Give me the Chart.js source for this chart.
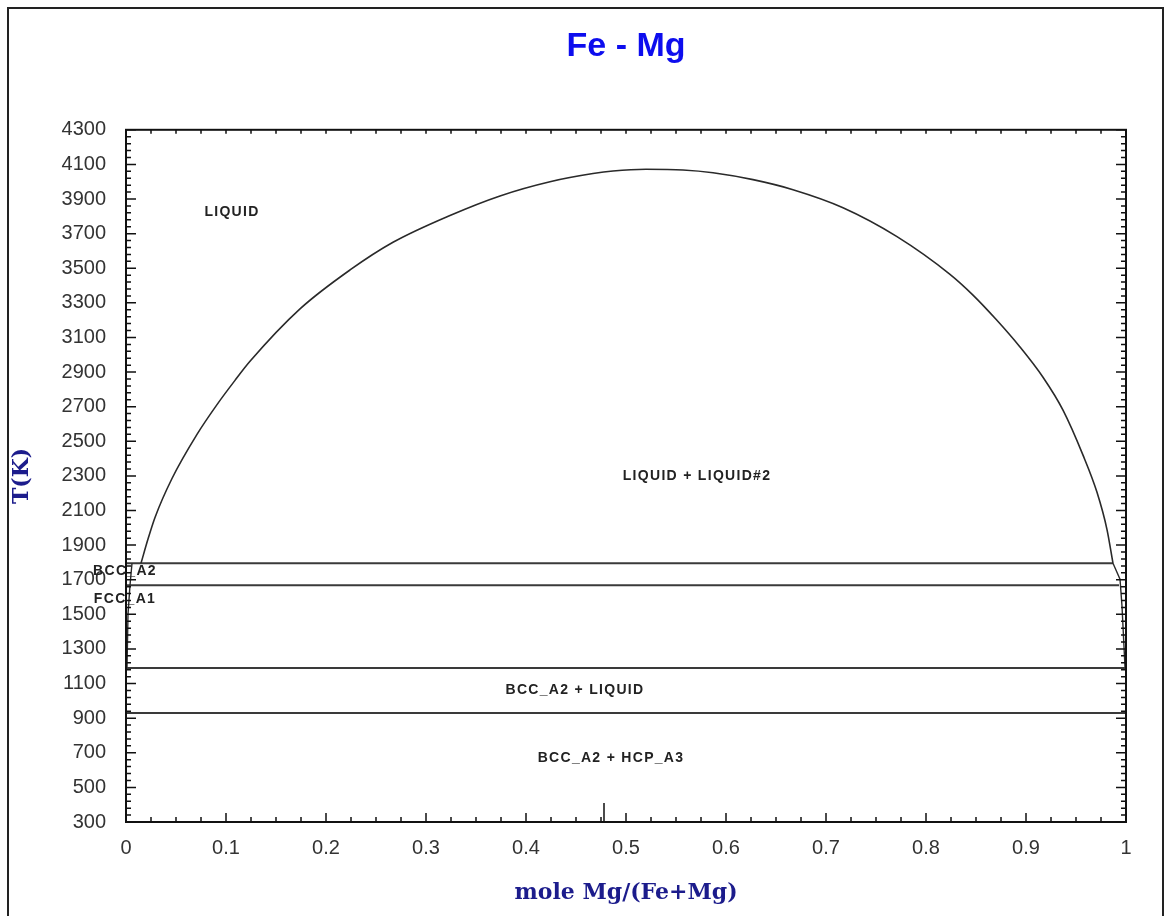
<!DOCTYPE html>
<html>
<head>
<meta charset="utf-8">
<title>Fe - Mg</title>
<script src="https://cdn.jsdelivr.net/npm/chart.js@4.4.1/dist/chart.umd.min.js"></script>
<style>
    html, body { margin: 0; padding: 0; background: #fff; overflow: hidden; }
    #wrap { position: relative; width: 1169px; height: 916px; }
    #frame {
        position: absolute; left: 7px; top: 7px; width: 1153px; height: 1000px;
        border: 2px solid #222; pointer-events: none;
    }
</style>
</head>
<body>
<div id="wrap">
    <canvas id="phaseChart" width="1169" height="916"></canvas>
    <div id="frame"></div>
</div>
<script>
// miscibility gap (liquid / liquid#2), x = mole fraction Mg, T in K
const gapX = [0.015, 0.022, 0.029, 0.046, 0.071, 0.091, 0.109, 0.124, 0.174, 0.224, 0.267, 0.324, 0.374, 0.424, 0.467, 0.487, 0.520, 0.557, 0.587, 0.627, 0.667, 0.717, 0.771, 0.824, 0.847, 0.870, 0.894, 0.917, 0.937, 0.957, 0.971, 0.981, 0.987];
const gapT = [1795, 1935, 2060, 2285, 2540, 2712, 2852, 2962, 3265, 3490, 3650, 3805, 3918, 4000, 4047, 4062, 4072, 4068, 4052, 4012, 3954, 3850, 3683, 3465, 3345, 3205, 3045, 2870, 2680, 2420, 2205, 1990, 1795];

// boundaries below the monotectic line
const feSideX = [0.006, 0.004, 0.002, 0.001];
const feSideT = [1795, 1668, 1500, 1195];
const mgSideX = [0.987, 0.994, 0.996, 0.999];
const mgSideT = [1795, 1703, 1547, 1195];

// invariant (horizontal) lines
const invariantT = [1795, 1668, 1190, 930];
const invariantXEnd = [0.987, 0.993, 1, 1];

// short marker on the x axis
const markerX = [0.478];

const xTickValues = [0, 0.1, 0.2, 0.3, 0.4, 0.5, 0.6, 0.7, 0.8, 0.9, 1];
const xTickLabels = ['0', '0.1', '0.2', '0.3', '0.4', '0.5', '0.6', '0.7', '0.8', '0.9', '1'];
const yTickValues = [300, 500, 700, 900, 1100, 1300, 1500, 1700, 1900, 2100, 2300, 2500, 2700, 2900, 3100, 3300, 3500, 3700, 3900, 4100, 4300];

const regionText = ['LIQUID', 'LIQUID + LIQUID#2', 'BCC_A2', 'FCC_A1', 'BCC_A2 + LIQUID', 'BCC_A2 + HCP_A3'];
const regionX = [0.106, 0.571, -0.001, -0.001, 0.449, 0.485];
const regionT = [3827, 2297, 1749, 1587, 1062, 669];

const toPoints = (xs, ts) => xs.map((v, i) => ({ x: v, y: ts[i] }));

const lineColor = '#2a2a2a';
const datasets = [
    { data: toPoints(gapX, gapT), borderColor: lineColor, borderWidth: 1.6, cubicInterpolationMode: 'monotone' },
    { data: toPoints(feSideX, feSideT), borderColor: lineColor, borderWidth: 1.4 },
    { data: toPoints(mgSideX, mgSideT), borderColor: lineColor, borderWidth: 1.4 }
];
invariantT.forEach((t, i) => {
    datasets.push({ data: [{ x: 0, y: t }, { x: invariantXEnd[i], y: t }], borderColor: '#3a3a3a', borderWidth: 2 });
});
datasets.forEach((ds) => {
    ds.showLine = true;
    ds.pointRadius = 0;
    ds.fill = false;
});

const frameTicks = {
    id: 'frameTicks',
    afterDatasetsDraw(chart) {
        const { ctx, chartArea: a, scales: { x, y } } = chart;
        ctx.save();
        ctx.strokeStyle = '#111';
        ctx.lineWidth = 2;
        ctx.strokeRect(a.left, a.top, a.right - a.left, a.bottom - a.top);
        ctx.lineWidth = 1.5;
        ctx.beginPath();
        for (let i = 0; i <= 40; i++) {
            const px = x.getPixelForValue(i * 0.025);
            const len = i % 4 === 0 ? 9 : 5;
            ctx.moveTo(px, a.bottom); ctx.lineTo(px, a.bottom - len);
            ctx.moveTo(px, a.top); ctx.lineTo(px, a.top + 4);
        }
        for (let v = 300; v <= 4300; v += 40) {
            const py = y.getPixelForValue(v);
            const len = (v - 300) % 200 === 0 ? 10 : 5;
            ctx.moveTo(a.left, py); ctx.lineTo(a.left + len, py);
            ctx.moveTo(a.right, py); ctx.lineTo(a.right - len, py);
        }
        markerX.forEach((m) => {
            const px = x.getPixelForValue(m);
            ctx.moveTo(px, a.bottom); ctx.lineTo(px, a.bottom - 19);
        });
        ctx.stroke();

        ctx.fillStyle = '#222';
        ctx.font = 'bold 14px "Liberation Sans", Arial, sans-serif';
        ctx.letterSpacing = '1.3px';
        ctx.textAlign = 'center';
        ctx.textBaseline = 'middle';
        regionText.forEach((txt, i) => {
            ctx.fillText(txt, x.getPixelForValue(regionX[i]), y.getPixelForValue(regionT[i]));
        });
        ctx.restore();
    }
};

const tickFont = { family: '"Liberation Sans", Arial, sans-serif', size: 20 };
const axisTitleFont = { family: '"DejaVu Serif", "Liberation Serif", serif', size: 22, weight: 'bold' };

new Chart(document.getElementById('phaseChart').getContext('2d'), {
    type: 'scatter',
    data: { datasets },
    options: {
        responsive: false,
        animation: false,
        devicePixelRatio: 1,
        layout: { padding: { left: 0, right: 43, top: 0, bottom: 0 } },
        plugins: {
            legend: { display: false },
            tooltip: { enabled: false },
            title: {
                display: true,
                fullSize: false,
                text: 'Fe - Mg',
                color: '#0d0dee',
                font: { family: '"Liberation Sans", Arial, sans-serif', size: 34, weight: 'bold' },
                padding: { top: 26, bottom: 63 }
            }
        },
        scales: {
            x: {
                type: 'linear',
                min: 0,
                max: 1,
                grid: { display: false, drawTicks: false },
                border: { display: false },
                afterBuildTicks: (scale) => { scale.ticks = xTickValues.map((v) => ({ value: v })); },
                afterFit: (scale) => { scale.height = 94; },
                ticks: {
                    color: '#333',
                    font: tickFont,
                    padding: 14,
                    maxRotation: 0,
                    autoSkip: false,
                    callback: (v) => xTickLabels[xTickValues.indexOf(v)]
                },
                title: {
                    display: true,
                    text: 'mole Mg/(Fe+Mg)',
                    color: '#1c1c8c',
                    font: axisTitleFont,
                    padding: { top: 0, bottom: 10 }
                }
            },
            y: {
                type: 'linear',
                min: 300,
                max: 4300,
                grid: { display: false, drawTicks: false },
                border: { display: false },
                afterBuildTicks: (scale) => { scale.ticks = yTickValues.map((v) => ({ value: v })); },
                afterFit: (scale) => { scale.width = 126; },
                ticks: {
                    color: '#333',
                    font: tickFont,
                    padding: 20,
                    autoSkip: false,
                    callback: (v) => String(v)
                },
                title: {
                    display: true,
                    text: 'T(K)',
                    color: '#1c1c8c',
                    font: axisTitleFont,
                    padding: { top: 9, bottom: 0 }
                }
            }
        }
    },
    plugins: [frameTicks]
});
</script>
</body>
</html>
